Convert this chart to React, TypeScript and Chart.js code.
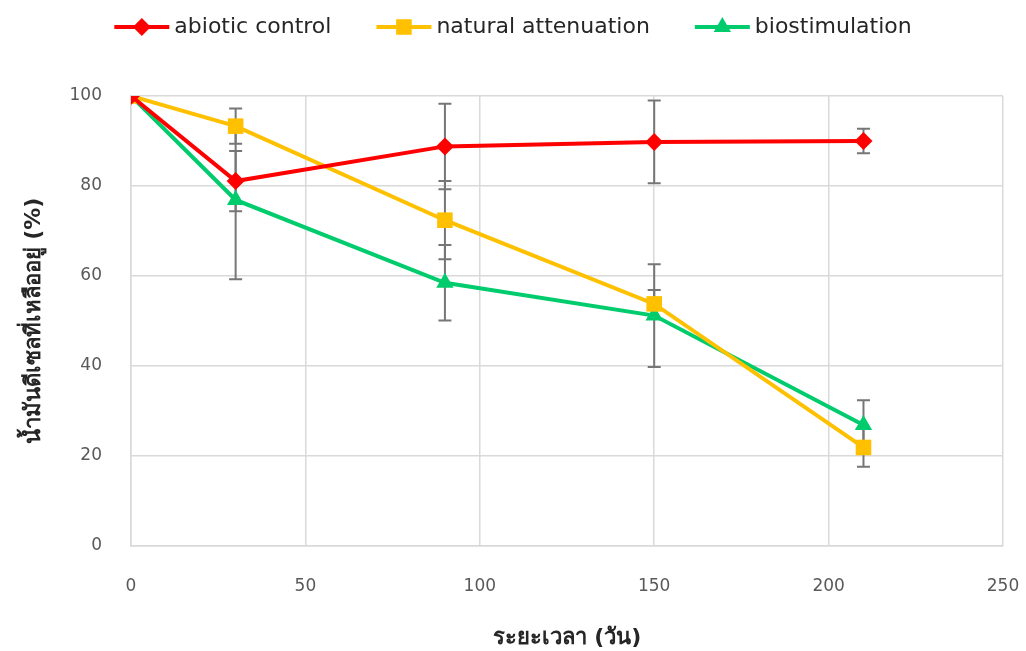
import React, { useEffect, useRef } from "react";
import { Chart, registerables } from "chart.js";

Chart.register(...registerables);

const days = [0, 30, 90, 150, 210];
const abioticControl = [100, 81.1, 88.8, 89.8, 90.0];
const abioticErr = [0, 6.7, 9.5, 9.2, 2.7];
const naturalAttenuation = [100, 93.3, 72.4, 53.8, 21.9];
const naturalErr = [0, 3.9, 8.7, 3.1, 4.3];
const biostimulation = [100, 76.9, 58.5, 51.2, 26.9];
const bioErr = [0, 17.6, 8.4, 11.4, 5.5];

const seriesNames = ["abiotic control", "natural attenuation", "biostimulation"];
const seriesColors = ["#FF0000", "#FFC000", "#00CC6E"];
const xTitle = "ระยะเวลา (วัน)";
const yTitle = "น้ำมันดีเซลที่เหลืออยู่ (%)";

const FONT = "'DejaVu Sans', 'Noto Sans', sans-serif";

const errorBarPlugin = {
  id: "errorBars",
  beforeDatasetsDraw(chart: any) {
    const ctx = chart.ctx;
    const xs = chart.scales.x;
    const ys = chart.scales.y;
    ctx.save();
    ctx.strokeStyle = "#767676";
    ctx.lineWidth = 2;
    chart.data.datasets.forEach((ds: any) => {
      const errs: number[] = ds.errors || [];
      ds.data.forEach((p: any, i: number) => {
        const e = errs[i];
        if (!e) return;
        const px = xs.getPixelForValue(p.x);
        const top = ys.getPixelForValue(p.y + e);
        const bot = ys.getPixelForValue(p.y - e);
        ctx.beginPath();
        ctx.moveTo(px, top);
        ctx.lineTo(px, bot);
        ctx.moveTo(px - 6.5, top);
        ctx.lineTo(px + 6.5, top);
        ctx.moveTo(px - 6.5, bot);
        ctx.lineTo(px + 6.5, bot);
        ctx.stroke();
      });
    });
    ctx.restore();
  },
};

const legendPlugin = {
  id: "customLegend",
  afterDraw(chart: any) {
    const ctx = chart.ctx;
    ctx.save();
    ctx.font = `22px ${FONT}`;
    const lineLen = 55;
    const gap = 5;
    const spacing = 45;
    const widths = chart.data.datasets.map((ds: any) => ctx.measureText(ds.label).width);
    const total = widths.reduce((a: number, w: number) => a + lineLen + gap + w, 0) + spacing * (widths.length - 1);
    let x = chart.width / 2 - total / 2;
    const y = 27;
    chart.data.datasets.forEach((ds: any, i: number) => {
      ctx.strokeStyle = ds.borderColor;
      ctx.lineWidth = 4;
      ctx.beginPath();
      ctx.moveTo(x, y);
      ctx.lineTo(x + lineLen, y);
      ctx.stroke();
      const cx = x + lineLen / 2;
      ctx.fillStyle = ds.borderColor;
      ctx.beginPath();
      const r = ds.pointRadius;
      if (ds.pointStyle === "rectRot") {
        ctx.moveTo(cx - r, y);
        ctx.lineTo(cx, y - r);
        ctx.lineTo(cx + r, y);
        ctx.lineTo(cx, y + r);
        ctx.closePath();
      } else if (ds.pointStyle === "rect") {
        const s = r * Math.SQRT1_2;
        ctx.rect(cx - s, y - s, 2 * s, 2 * s);
      } else {
        ctx.moveTo(cx, y - r);
        ctx.lineTo(cx + r * Math.sin(Math.PI / 3), y + r / 2);
        ctx.lineTo(cx - r * Math.sin(Math.PI / 3), y + r / 2);
        ctx.closePath();
      }
      ctx.fill();
      ctx.fillStyle = "#262626";
      ctx.textBaseline = "middle";
      ctx.textAlign = "left";
      ctx.fillText(ds.label, x + lineLen + gap, y);
      x += lineLen + gap + widths[i] + spacing;
    });
    ctx.restore();
  },
};

function toPoints(vals: number[]) {
  return days.map((d, i) => ({ x: d, y: vals[i] }));
}

export default function App() {
  const ref = useRef<HTMLCanvasElement>(null);
  useEffect(() => {
    document.body.style.margin = "0";
    const values = [abioticControl, naturalAttenuation, biostimulation];
    const errs = [abioticErr, naturalErr, bioErr];
    const styles = ["rectRot", "rect", "triangle"];
    const radii = [9, 11, 10];
    const chart = new Chart(ref.current as HTMLCanvasElement, {
      type: "scatter",
      data: {
        datasets: seriesNames.map((name, i) => ({
          label: name,
          data: toPoints(values[i]),
          errors: errs[i],
          showLine: true,
          borderColor: seriesColors[i],
          backgroundColor: seriesColors[i],
          borderWidth: 4,
          pointStyle: styles[i],
          pointRadius: radii[i],
          pointBorderWidth: 0,
          pointHoverRadius: radii[i],
          tension: 0,
        })) as any,
      },
      options: {
        animation: false,
        responsive: false,
        maintainAspectRatio: false,
        events: [],
        layout: { padding: { top: 96, right: 23, bottom: 0, left: 0 } },
        plugins: {
          legend: { display: false },
          tooltip: { enabled: false },
        },
        scales: {
          x: {
            type: "linear",
            min: 0,
            max: 250,
            ticks: {
              stepSize: 50,
              padding: 30,
              color: "#595959",
              font: { family: FONT, size: 17 },
            },
            grid: { color: "#d9d9d9", lineWidth: 1.5, drawTicks: false },
            border: { color: "#d9d9d9", width: 1.5 },
            title: {
              display: true,
              text: xTitle,
              color: "#262626",
              font: { family: FONT, size: 22, weight: "bold" },
              padding: 0,
            },
            afterFit(scale: any) {
              scale.height = 105;
              scale.paddingRight = 0;
              scale.paddingLeft = 0;
            },
          },
          y: {
            type: "linear",
            min: 0,
            max: 100,
            ticks: {
              stepSize: 20,
              padding: 29,
              color: "#595959",
              font: { family: FONT, size: 17 },
            },
            grid: { color: "#d9d9d9", lineWidth: 1.5, drawTicks: false },
            border: { color: "#d9d9d9", width: 1.5 },
            title: {
              display: true,
              text: yTitle,
              color: "#262626",
              font: { family: FONT, size: 22, weight: "bold" },
              padding: { top: 21, bottom: 0 },
            },
            afterFit(scale: any) {
              scale.width = 131;
              scale.paddingTop = 0;
              scale.paddingBottom = 0;
            },
          },
        },
      } as any,
      plugins: [errorBarPlugin, legendPlugin],
    });
    return () => chart.destroy();
  }, []);
  return (
    <div style={{ width: 1026, height: 651 }}>
      <canvas ref={ref} width={1026} height={651} style={{ display: "block" }} />
    </div>
  );
}
